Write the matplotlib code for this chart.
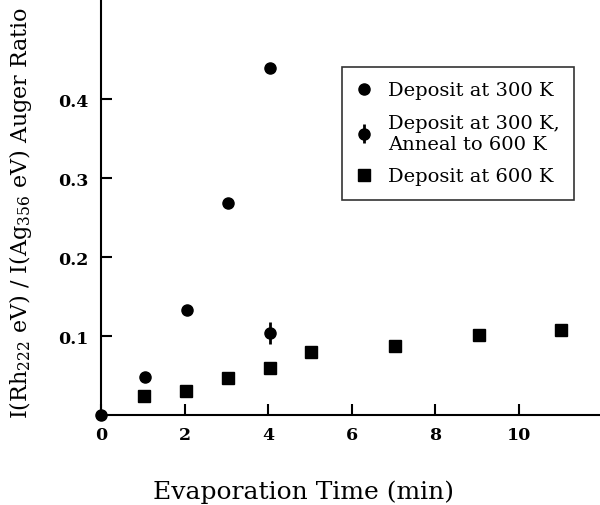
import matplotlib
matplotlib.use("Agg")
import matplotlib.pyplot as plt

# Data
t_300 = [0.0, 1.05, 2.07, 3.05, 4.05]
r_300 = [0.0, 0.048, 0.133, 0.268, 0.440]

t_anneal = [4.05]
r_anneal = [0.104]
err_anneal = [0.014]

t_600 = [1.04, 2.03, 3.04, 4.05, 5.03, 7.03, 9.05, 11.02]
r_600 = [0.0245, 0.030, 0.047, 0.059, 0.080, 0.087, 0.101, 0.108]

xticks = [0, 2, 4, 6, 8, 10]
yticks = [0.1, 0.2, 0.3, 0.4]
ytick_labels = ["0.1", "0.2", "0.3", "0.4"]

plt.rcParams['font.family'] = ['DejaVu Serif']
plt.rcParams['mathtext.fontset'] = 'dejavuserif'

fig = plt.figure(figsize=(6.0, 5.06), dpi=100)
ax = fig.add_axes([101/600, 90/506, 499/600, 416/506])

h1, = ax.plot(t_300, r_300, 'o', color='black', markersize=8, clip_on=False,
              zorder=3)
h2 = ax.errorbar(t_anneal, r_anneal, yerr=err_anneal, fmt='o', color='black',
                 markersize=8, elinewidth=2, capsize=0, clip_on=False, zorder=3)
h3, = ax.plot(t_600, r_600, 's', color='black', markersize=8, clip_on=False,
              zorder=3)

ax.set_xlim(0, 11.95)
ax.set_ylim(0, 0.527)
ax.spines['top'].set_visible(False)
ax.spines['right'].set_visible(False)
ax.spines['left'].set_linewidth(1.5)
ax.spines['bottom'].set_linewidth(1.5)

ax.set_xticks(xticks)
ax.set_yticks(yticks)
ax.set_yticklabels(ytick_labels)
ax.tick_params(axis='both', direction='in', length=8, width=1.5,
               labelsize=12.5)
ax.tick_params(axis='y', pad=9)
ax.tick_params(axis='x', pad=8)
for lbl in ax.get_xticklabels() + ax.get_yticklabels():
    lbl.set_fontweight('bold')

ax.set_xlabel('Evaporation Time (min)', fontsize=18)
ax.xaxis.set_label_coords(0.405, -0.155)
ax.set_ylabel(r'I(Rh$_{222}$ eV) / I(Ag$_{356}$ eV) Auger Ratio',
              fontsize=16)
ax.yaxis.set_label_coords(-0.135, 0.487)

leg = ax.legend([h1, h2, h3],
                ['Deposit at 300 K', 'Deposit at 300 K,\nAnneal to 600 K',
                 'Deposit at 600 K'],
                loc='upper left', bbox_to_anchor=(0.483, 0.837),
                borderaxespad=0, frameon=True, fancybox=False,
                edgecolor='black', fontsize=14, handlelength=0.8,
                handletextpad=0.8, labelspacing=0.75, borderpad=0.75)
leg.get_frame().set_linewidth(1.2)

fig.savefig('out.png', dpi=100)
